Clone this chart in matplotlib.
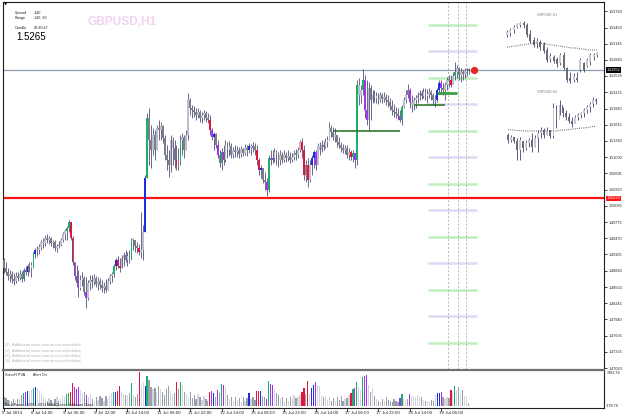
import matplotlib
matplotlib.use("Agg")
import matplotlib.pyplot as plt
from matplotlib.transforms import blended_transform_factory

plt.rcParams['font.family'] = ['Liberation Sans', 'DejaVu Sans']

W, H = 625, 418

# ---------------- H1 bars (GBPUSD) ----------------
first_open = 1.4906
highs = [
    1.4910, 1.4902, 1.4891, 1.4887, 1.4885, 1.4882, 1.4884, 1.4884, 1.4887, 1.4885,
    1.4891, 1.4895, 1.4899, 1.4902, 1.4902, 1.4921, 1.4929, 1.4933, 1.4937, 1.4944,
    1.4948, 1.4953, 1.4955, 1.4951, 1.4950, 1.4944, 1.4944, 1.4936, 1.4942, 1.4948,
    1.4959, 1.4965, 1.4970, 1.4982, 1.4978, 1.4951, 1.4902, 1.4897, 1.4887, 1.4878,
    1.4884, 1.4876, 1.4874, 1.4868, 1.4878, 1.4878, 1.4880, 1.4876, 1.4874, 1.4872,
    1.4868, 1.4864, 1.4870, 1.4872, 1.4880, 1.4884, 1.4899, 1.4910, 1.4914, 1.4910,
    1.4916, 1.4921, 1.4925, 1.4921, 1.4925, 1.4948, 1.4948, 1.4944, 1.4940, 1.4936,
    1.4997, 1.4972, 1.5067, 1.5184, 1.5193, 1.5161, 1.5155, 1.5152, 1.5161, 1.5170,
    1.5167, 1.5161, 1.5142, 1.5123, 1.5114, 1.5142, 1.5138, 1.5133, 1.5123, 1.5117,
    1.5142, 1.5146, 1.5142, 1.5152, 1.5221, 1.5212, 1.5199, 1.5197, 1.5193, 1.5193,
    1.5189, 1.5186, 1.5189, 1.5188, 1.5184, 1.5180, 1.5155, 1.5148, 1.5146, 1.5133,
    1.5114, 1.5117, 1.5123, 1.5133, 1.5129, 1.5131, 1.5127, 1.5119, 1.5123, 1.5121,
    1.5119, 1.5121, 1.5117, 1.5125, 1.5123, 1.5127, 1.5125, 1.5129, 1.5127, 1.5123,
    1.5099, 1.5086, 1.5080, 1.5072, 1.5061, 1.5104, 1.5114, 1.5114, 1.5117, 1.5114,
    1.5110, 1.5114, 1.5110, 1.5114, 1.5110, 1.5114, 1.5110, 1.5108, 1.5114, 1.5116,
    1.5119, 1.5133, 1.5136, 1.5123, 1.5095, 1.5099, 1.5095, 1.5104, 1.5114, 1.5114,
    1.5127, 1.5129, 1.5133, 1.5131, 1.5136, 1.5140, 1.5167, 1.5161, 1.5157, 1.5155,
    1.5142, 1.5138, 1.5129, 1.5125, 1.5123, 1.5123, 1.5117, 1.5114, 1.5114, 1.5108,
    1.5246, 1.5250, 1.5237, 1.5267, 1.5255, 1.5246, 1.5242, 1.5237, 1.5227, 1.5227,
    1.5223, 1.5221, 1.5223, 1.5221, 1.5223, 1.5220, 1.5218, 1.5212, 1.5208, 1.5201,
    1.5195, 1.5193, 1.5189, 1.5199, 1.5214, 1.5227, 1.5238, 1.5231, 1.5218, 1.5214,
    1.5218, 1.5223, 1.5227, 1.5227, 1.5231, 1.5231, 1.5229, 1.5231, 1.5227, 1.5221,
    1.5218, 1.5231, 1.5246, 1.5246, 1.5240, 1.5242, 1.5252, 1.5255, 1.5255, 1.5261,
    1.5280, 1.5274, 1.5270, 1.5269, 1.5265, 1.5269, 1.5269, 1.5269,
]
lows = [
    1.4882, 1.4878, 1.4868, 1.4864, 1.4862, 1.4859, 1.4862, 1.4866, 1.4868, 1.4864,
    1.4866, 1.4878, 1.4876, 1.4884, 1.4874, 1.4891, 1.4910, 1.4914, 1.4918, 1.4925,
    1.4929, 1.4933, 1.4938, 1.4937, 1.4933, 1.4929, 1.4923, 1.4921, 1.4929, 1.4933,
    1.4940, 1.4944, 1.4944, 1.4959, 1.4944, 1.4897, 1.4868, 1.4855, 1.4836, 1.4850,
    1.4857, 1.4840, 1.4815, 1.4831, 1.4850, 1.4853, 1.4859, 1.4855, 1.4850, 1.4851,
    1.4846, 1.4843, 1.4846, 1.4850, 1.4861, 1.4864, 1.4874, 1.4887, 1.4891, 1.4884,
    1.4891, 1.4895, 1.4902, 1.4895, 1.4900, 1.4910, 1.4925, 1.4921, 1.4919, 1.4916,
    1.4910, 1.4906, 1.4959, 1.5061, 1.5086, 1.5080, 1.5104, 1.5095, 1.5114, 1.5133,
    1.5133, 1.5127, 1.5095, 1.5076, 1.5063, 1.5072, 1.5086, 1.5080, 1.5076, 1.5076,
    1.5086, 1.5104, 1.5099, 1.5114, 1.5133, 1.5180, 1.5174, 1.5176, 1.5170, 1.5174,
    1.5167, 1.5165, 1.5170, 1.5167, 1.5165, 1.5142, 1.5133, 1.5114, 1.5117, 1.5099,
    1.5082, 1.5076, 1.5086, 1.5091, 1.5099, 1.5102, 1.5099, 1.5099, 1.5101, 1.5101,
    1.5099, 1.5101, 1.5102, 1.5104, 1.5102, 1.5108, 1.5104, 1.5110, 1.5104, 1.5086,
    1.5067, 1.5061, 1.5052, 1.5038, 1.5027, 1.5035, 1.5086, 1.5089, 1.5091, 1.5086,
    1.5082, 1.5086, 1.5089, 1.5091, 1.5091, 1.5093, 1.5089, 1.5091, 1.5095, 1.5095,
    1.5099, 1.5110, 1.5099, 1.5057, 1.5053, 1.5044, 1.5053, 1.5067, 1.5080, 1.5076,
    1.5101, 1.5104, 1.5110, 1.5114, 1.5117, 1.5119, 1.5133, 1.5138, 1.5133, 1.5129,
    1.5119, 1.5117, 1.5110, 1.5108, 1.5106, 1.5099, 1.5095, 1.5095, 1.5091, 1.5080,
    1.5086, 1.5199, 1.5202, 1.5218, 1.5174, 1.5161, 1.5152, 1.5170, 1.5202, 1.5204,
    1.5202, 1.5201, 1.5204, 1.5202, 1.5204, 1.5199, 1.5195, 1.5189, 1.5180, 1.5176,
    1.5174, 1.5170, 1.5167, 1.5161, 1.5193, 1.5202, 1.5212, 1.5193, 1.5186, 1.5189,
    1.5193, 1.5202, 1.5208, 1.5210, 1.5212, 1.5208, 1.5202, 1.5212, 1.5208, 1.5199,
    1.5195, 1.5204, 1.5223, 1.5223, 1.5218, 1.5208, 1.5227, 1.5233, 1.5233, 1.5238,
    1.5246, 1.5250, 1.5246, 1.5242, 1.5246, 1.5250, 1.5254, 1.5257,
]
closes = [
    1.4891, 1.4884, 1.4876, 1.4880, 1.4870, 1.4866, 1.4876, 1.4872, 1.4880, 1.4870,
    1.4887, 1.4884, 1.4895, 1.4897, 1.4891, 1.4918, 1.4925, 1.4925, 1.4931, 1.4940,
    1.4938, 1.4948, 1.4944, 1.4948, 1.4938, 1.4940, 1.4929, 1.4933, 1.4934, 1.4944,
    1.4955, 1.4961, 1.4967, 1.4978, 1.4948, 1.4902, 1.4876, 1.4862, 1.4853, 1.4868,
    1.4872, 1.4846, 1.4834, 1.4862, 1.4868, 1.4864, 1.4872, 1.4861, 1.4866, 1.4859,
    1.4853, 1.4857, 1.4850, 1.4866, 1.4876, 1.4880, 1.4895, 1.4906, 1.4895, 1.4891,
    1.4910, 1.4916, 1.4906, 1.4914, 1.4906, 1.4944, 1.4944, 1.4933, 1.4929, 1.4921,
    1.4925, 1.4959, 1.5061, 1.5174, 1.5133, 1.5114, 1.5142, 1.5114, 1.5155, 1.5152,
    1.5159, 1.5136, 1.5104, 1.5095, 1.5086, 1.5133, 1.5117, 1.5095, 1.5086, 1.5095,
    1.5133, 1.5138, 1.5114, 1.5142, 1.5208, 1.5193, 1.5189, 1.5186, 1.5180, 1.5186,
    1.5174, 1.5180, 1.5184, 1.5174, 1.5170, 1.5152, 1.5138, 1.5144, 1.5123, 1.5104,
    1.5089, 1.5110, 1.5095, 1.5123, 1.5114, 1.5121, 1.5104, 1.5114, 1.5110, 1.5114,
    1.5106, 1.5116, 1.5108, 1.5117, 1.5114, 1.5121, 1.5117, 1.5121, 1.5114, 1.5095,
    1.5076, 1.5080, 1.5057, 1.5053, 1.5038, 1.5099, 1.5095, 1.5099, 1.5110, 1.5104,
    1.5095, 1.5104, 1.5095, 1.5104, 1.5099, 1.5102, 1.5095, 1.5101, 1.5108, 1.5104,
    1.5114, 1.5129, 1.5114, 1.5067, 1.5086, 1.5057, 1.5086, 1.5099, 1.5110, 1.5086,
    1.5121, 1.5114, 1.5123, 1.5119, 1.5129, 1.5133, 1.5155, 1.5148, 1.5138, 1.5142,
    1.5129, 1.5123, 1.5117, 1.5114, 1.5117, 1.5104, 1.5110, 1.5101, 1.5108, 1.5095,
    1.5237, 1.5218, 1.5227, 1.5246, 1.5189, 1.5170, 1.5231, 1.5208, 1.5218, 1.5212,
    1.5216, 1.5208, 1.5218, 1.5210, 1.5214, 1.5208, 1.5204, 1.5197, 1.5189, 1.5186,
    1.5182, 1.5178, 1.5170, 1.5195, 1.5208, 1.5218, 1.5227, 1.5204, 1.5199, 1.5208,
    1.5212, 1.5218, 1.5221, 1.5216, 1.5223, 1.5216, 1.5220, 1.5223, 1.5218, 1.5208,
    1.5208, 1.5227, 1.5240, 1.5231, 1.5227, 1.5237, 1.5246, 1.5246, 1.5237, 1.5254,
    1.5261, 1.5269, 1.5255, 1.5261, 1.5257, 1.5263, 1.5265, 1.5265,
]
# SonicR PVA class of each bar: u/d normal bull/bear, g/r climax, b/m rising
pva = "".join([
    "ddduddudud", "gmbuugbuuu", "uududududu", "uuggrrmmmu", "udmuududud",
    "duduuugbrr", "uududguddr", "uubgddudud", "udddduudrd", "guduuddddu",
    "duuddrmbdm", "dgmudududu", "dududbuddr", "rbddmgmmud", "dudududuud",
    "uurrdrubbm", "uuuduuuddu", "ddddudurgm", "guugmmudud", "udududdddd",
    "ddmguudmuu", "uuududuudd", "ubbmduudru", "gududuud",
])
volumes = [
    2200, 1800, 1500, 1400, 1200, 1600, 1300, 1700, 1900, 2500,
    2900, 3300, 3400, 2900, 3600, 4200, 4400, 4000, 3500, 2800,
    2200, 1600, 1200, 1800, 1400, 1000, 1600, 2000, 1300, 1700,
    2400, 2000, 2800, 3000, 3300, 5200, 4400, 4000, 4400, 3600,
    3000, 3300, 2600, 2100, 2800, 1600, 1000, 2000, 1400, 2400,
    1800, 1200, 2300, 1600, 2500, 3000, 3300, 3300, 3400, 4600,
    3200, 2800, 2500, 2600, 3000, 5200, 2600, 2000, 2700, 7800,
    4800, 5400, 4600, 6900, 5900, 4400, 3800, 4200, 3300, 4600,
    3800, 3200, 2600, 3800, 4600, 3400, 2800, 3000, 5400, 3800,
    5500, 4500, 3300, 2700, 2200, 3200, 1800, 2600, 1600, 2800,
    2000, 1400, 2400, 1700, 1100, 3300, 3500, 2900, 2100, 3700,
    2900, 5100, 4800, 4400, 2600, 1600, 2000, 1200, 2200, 1400,
    1800, 1000, 2200, 1300, 1900, 2900, 1600, 2200, 1500, 3400,
    3500, 3400, 2400, 2000, 1600, 5700, 5100, 4900, 3800, 3000,
    2500, 1800, 2200, 1300, 1900, 1200, 2100, 1600, 2500, 1800,
    2200, 2600, 3300, 4200, 2800, 5700, 3000, 4200, 4800, 5500,
    4900, 4600, 2600, 2000, 2400, 1500, 2200, 1300, 1800, 1100,
    2000, 1500, 2300, 1200, 1600, 1900, 2500, 2900, 3800, 4200,
    5500, 4300, 3600, 6700, 6900, 7100, 4900, 3300, 4200, 2300,
    1600, 1300, 900, 1700, 1200, 2000, 1500, 1100, 900, 1600,
    1300, 1000, 1900, 2800, 1600, 1500, 1700, 2700, 2400, 2300,
    2200, 2500, 2400, 2100, 1500, 1100, 1300, 1000, 1400, 1200,
    2500, 2900, 3100, 3300, 2100, 1700, 2000, 1900, 3700, 2900,
    4600, 3700, 4400, 3000, 3700, 2400, 2000, 700,
]
vol_max, vol_min = 7963.76, -378.76

date_bars = [0, 15, 31, 47, 63, 79, 95, 111, 127, 143, 159, 175, 191, 207, 223]
date_labels = ["5 Jul 2013", "8 Jul 14:00", "9 Jul 06:00", "9 Jul 22:00", "10 Jul 14:00",
               "11 Jul 06:00", "11 Jul 22:00", "12 Jul 14:00", "15 Jul 06:00", "15 Jul 22:00",
               "16 Jul 14:00", "17 Jul 06:00", "17 Jul 22:00", "18 Jul 14:00", "19 Jul 06:00"]
price_ticks = [1.53760, 1.53450, 1.53145, 1.52840, 1.52535, 1.52225, 1.51920, 1.51615,
               1.51310, 1.51000, 1.50695, 1.50390, 1.50085, 1.49775, 1.49470, 1.49165,
               1.48860, 1.48550, 1.48245, 1.47940, 1.47635, 1.47325, 1.47020]

bid = 1.5265
bid_label = "1.52652"
red_level = 1.50226
levels_50 = [1.5350, 1.5250, 1.5150, 1.5050, 1.4950, 1.4850, 1.4750]
levels_00 = [1.5300, 1.5200, 1.5100, 1.5000, 1.4900, 1.4800]
zone_lines = [(168, 202, 1.5150), (209, 225, 1.5199)]
zone_lines_thick = [(221, 231, 1.5221)]
session_bars = [226.5, 231.6, 235.7]
dot_bar = 239.8

news = ["(1)  Additional news events not scheduled",
        "(2)  Additional news events not scheduled",
        "(3)  Additional news events not scheduled",
        "(4)  Additional news events not scheduled"]

# ---------------- D1 mini chart ----------------
d1_open = [1.565, 1.567, 1.570, 1.573, 1.575, 1.577, 1.575, 1.566, 1.560, 1.556,
           1.558, 1.555, 1.550, 1.541, 1.543, 1.541, 1.537, 1.545, 1.532, 1.522,
           1.520, 1.522, 1.530, 1.537, 1.534, 1.538, 1.543, 1.545]
d1_close = [1.568, 1.570, 1.573, 1.576, 1.577, 1.575, 1.565, 1.559, 1.555, 1.559,
            1.553, 1.549, 1.540, 1.544, 1.539, 1.536, 1.545, 1.532, 1.520, 1.519,
            1.524, 1.520, 1.540, 1.530, 1.540, 1.545, 1.545, 1.547]
d1_high = [1.570, 1.572, 1.575, 1.577, 1.578, 1.579, 1.577, 1.570, 1.563, 1.562,
           1.560, 1.558, 1.553, 1.547, 1.545, 1.543, 1.547, 1.548, 1.533, 1.528,
           1.527, 1.528, 1.542, 1.538, 1.542, 1.547, 1.547, 1.548]
d1_low = [1.563, 1.564, 1.567, 1.572, 1.573, 1.572, 1.563, 1.557, 1.553, 1.552,
          1.550, 1.547, 1.538, 1.538, 1.537, 1.533, 1.535, 1.530, 1.518, 1.517,
          1.518, 1.518, 1.528, 1.528, 1.533, 1.535, 1.540, 1.543]
d1_ma = [1.553, 1.553, 1.554, 1.554, 1.555, 1.555, 1.556, 1.556, 1.557, 1.557,
         1.557, 1.556, 1.556, 1.555, 1.555, 1.554, 1.554, 1.553, 1.553, 1.552,
         1.552, 1.552, 1.551, 1.551, 1.550, 1.550, 1.550, 1.550]

# ---------------- H4 mini chart ----------------
h4_open = [1.5325, 1.5300, 1.5315, 1.5295, 1.5250, 1.5295, 1.5260, 1.5285, 1.5300, 1.5265,
           1.5310, 1.5335, 1.5350, 1.5325, 1.5350, 1.5320, 1.5460, 1.5400, 1.5475, 1.5435,
           1.5415, 1.5395, 1.5380, 1.5415, 1.5425, 1.5435, 1.5450, 1.5465, 1.5480, 1.5500]
h4_close = [1.5300, 1.5315, 1.5295, 1.5250, 1.5300, 1.5260, 1.5285, 1.5300, 1.5265, 1.5310,
            1.5335, 1.5350, 1.5325, 1.5350, 1.5320, 1.5460, 1.5400, 1.5475, 1.5435, 1.5415,
            1.5395, 1.5380, 1.5415, 1.5425, 1.5435, 1.5450, 1.5465, 1.5480, 1.5500, 1.5495]
h4_high = [1.5335, 1.5325, 1.5310, 1.5310, 1.5315, 1.5290, 1.5300, 1.5310, 1.5335, 1.5325,
           1.5350, 1.5365, 1.5360, 1.5365, 1.5350, 1.5485, 1.5475, 1.5500, 1.5465, 1.5450,
           1.5435, 1.5415, 1.5425, 1.5435, 1.5440, 1.5460, 1.5475, 1.5490, 1.5515, 1.5510]
h4_low = [1.5285, 1.5290, 1.5285, 1.5200, 1.5200, 1.5240, 1.5250, 1.5265, 1.5240, 1.5265,
          1.5240, 1.5310, 1.5310, 1.5325, 1.5310, 1.5310, 1.5360, 1.5425, 1.5415, 1.5400,
          1.5385, 1.5365, 1.5390, 1.5400, 1.5410, 1.5415, 1.5435, 1.5440, 1.5465, 1.5480]
h4_ma = [1.5352, 1.5350, 1.5350, 1.5348, 1.5348, 1.5345, 1.5345, 1.5345, 1.5345, 1.5345,
         1.5345, 1.5345, 1.5345, 1.5345, 1.5345, 1.5345, 1.5345, 1.5348, 1.5350, 1.5350,
         1.5352, 1.5355, 1.5355, 1.5358, 1.5360, 1.5360, 1.5362, 1.5365, 1.5368, 1.5370]

# ---------------- styles ----------------
WICK = "#40406c"
BODY = {"u": "#bcbecb", "d": "#7e7e88", "g": "#1fae6a", "r": "#e0163c",
        "b": "#1830e0", "m": "#a234f0"}
VOLC = {"u": "#d2d5dc", "d": "#9aa0ab", "g": "#1fae6a", "r": "#e0163c",
        "b": "#1830e0", "m": "#a234f0"}
SMALL = 2.7


def box(l, t, r, b):
    return [l / W, 1 - b / H, (r - l) / W, (b - t) / H]


def fx(x):
    return x / W


def fy(y):
    return 1 - y / H


def candles(ax, o, h, l, c, colors, width, wick_lw):
    xs = list(range(len(c)))
    ax.vlines(xs, l, h, colors=WICK, lw=wick_lw, zorder=3)
    bottoms = [min(a, b) for a, b in zip(o, c)]
    heights = [max(abs(b - a), 0.00012) for a, b in zip(o, c)]
    ax.bar(xs, heights, bottom=bottoms, width=width, color=colors, lw=0, zorder=4)


fig = plt.figure(figsize=(W / 100, H / 100), dpi=100)
fig.patch.set_facecolor("white")

# ---------------- main window ----------------
ax = fig.add_axes(box(3, 2, 604, 369))
ax.set_xlim(-0.51, 306.1)
ax.set_ylim(1.47003, 1.53932)
for s in ["left", "top", "right"]:
    ax.spines[s].set_color("#202020")
    ax.spines[s].set_linewidth(0.8)
ax.spines["bottom"].set_visible(False)
ax.set_xticks([])
ax.yaxis.tick_right()
ax.set_yticks(price_ticks)
ax.set_yticklabels(["%.5f" % v for v in price_ticks])
ax.tick_params(axis="y", length=2, width=0.6, labelsize=SMALL, pad=1.5, colors="#202020")

opens = [first_open] + closes[:-1]
candles(ax, opens, highs, lows, closes, [BODY[k] for k in pva], 0.9, 0.55)

ax.axhline(bid, color="#8e9cab", lw=0.9, zorder=2)
ax.axhline(red_level, color="#ff1414", lw=1.6, zorder=2)
ax.hlines(levels_50, 216.3, 241.3, colors="#bfeebf", lw=1.8, zorder=1)
ax.hlines(levels_00, 216.3, 241.3, colors="#dcdcf6", lw=1.8, zorder=1)
for a, b, p in zone_lines:
    ax.hlines(p, a, b, colors="#1f6e1f", lw=1.1, zorder=5)
for a, b, p in zone_lines_thick:
    ax.hlines(p, a, b, colors="#3d9c3d", lw=2.0, zorder=5)
ax.vlines(session_bars, 1.47003, 1.53932, colors="#b5b5b5", lw=0.7,
          linestyles=(0, (2, 2)), zorder=1)
ax.plot([dot_bar], [bid], "o", color="#e82424", ms=4.2, zorder=6)

tr = blended_transform_factory(ax.transAxes, ax.transData)
ax.text(1.004, bid, bid_label, transform=tr, fontsize=SMALL, color="white", va="center",
        ha="left", bbox=dict(boxstyle="square,pad=0.2", fc="black", ec="none"), zorder=7)
ax.text(1.004, red_level, "%.5f" % red_level, transform=tr, fontsize=SMALL, color="white",
        va="center", ha="left", bbox=dict(boxstyle="square,pad=0.2", fc="#ff1414", ec="none"),
        zorder=7)

for i, t in enumerate(news):
    ax.text(0.003, 0.065 - i * 0.0148, t, transform=ax.transAxes, fontsize=3.0,
            color="#b4b4b4", va="center", ha="left")

# ---------------- D1 mini chart ----------------
ax_d1 = fig.add_axes(box(500, 10, 600, 90))
ax_d1.set_xlim(-2.1, 27.9)
ax_d1.set_ylim(1.510, 1.590)
ax_d1.axis("off")
ax_d1.patch.set_alpha(0)
col = ["#c8c8d2" if c >= o else "#6c6c74" for o, c in zip(d1_open, d1_close)]
candles(ax_d1, d1_open, d1_high, d1_low, d1_close, col, 0.62, 0.6)
ax_d1.plot(range(len(d1_ma)), d1_ma, color="#202020", lw=0.6, ls=(0, (1, 1.6)), zorder=5)
fig.text(fx(537), fy(15.5), "GBPUSD D1", fontsize=2.5, color="#808080", va="center")

# ---------------- H4 mini chart ----------------
ax_h4 = fig.add_axes(box(500, 90, 600, 165))
ax_h4.set_xlim(-2.64, 30.36)
ax_h4.set_ylim(1.5175, 1.555)
ax_h4.axis("off")
ax_h4.patch.set_alpha(0)
col = ["#c8c8d2" if c >= o else "#6c6c74" for o, c in zip(h4_open, h4_close)]
candles(ax_h4, h4_open, h4_high, h4_low, h4_close, col, 0.62, 0.6)
ax_h4.plot(range(len(h4_ma)), h4_ma, color="#202020", lw=0.6, ls=(0, (1, 1.6)), zorder=5)
fig.text(fx(537), fy(92), "GBPUSD H4", fontsize=2.5, color="#808080", va="center")

# ---------------- volume window ----------------
axv = fig.add_axes(box(3, 371, 604, 408))
axv.set_xlim(-0.51, 306.1)
axv.set_ylim(vol_min, vol_max)
axv.bar(range(len(volumes)), volumes, width=0.62, color=[VOLC[k] for k in pva], lw=0)
axv.set_xticks([])
axv.set_yticks([])
axv.spines["top"].set_visible(False)
for s in ["left", "bottom", "right"]:
    axv.spines[s].set_color("#202020")
    axv.spines[s].set_linewidth(0.8)
fig.text(fx(606.5), fy(373.5), "%.2f" % vol_max, fontsize=SMALL, color="#202020", va="center")
fig.text(fx(605.5), fy(406), "%.2f" % vol_min, fontsize=SMALL, color="#202020", va="center")
fig.text(fx(5), fy(374.5), "SonicR PVA", fontsize=SMALL, color="#202020", va="center")
fig.text(fx(33), fy(374.5), "Alert On", fontsize=SMALL, color="#202020", va="center")
fig.text(fx(3.5), fy(405), "Third Forex \u00a9 2001-2013 MetaQuotes Software Corp.",
         fontsize=SMALL, color="#202020", va="center")

# separator between windows
fig.add_artist(plt.Line2D([fx(3), fx(604)], [fy(370), fy(370)], color="#707070", lw=1.6))

# time axis
for b, lab in zip(date_bars, date_labels):
    xpix = 4 + 1.96 * b
    fig.add_artist(plt.Line2D([fx(xpix), fx(xpix)], [fy(408), fy(410.5)],
                              color="#202020", lw=0.6))
    fig.text(fx(xpix - 2), fy(413.5), lab, fontsize=3.2, color="#202020", va="center")

# ---------------- info block ----------------
fig.text(fx(3.5), fy(5), "\u25bc", fontsize=3, color="black", va="center",
         family="DejaVu Sans")
fig.text(fx(15), fy(13), "Spread", fontsize=SMALL, color="#202020", va="center")
fig.text(fx(34), fy(13), "1.40", fontsize=SMALL, color="#202020", va="center")
fig.text(fx(15), fy(17.5), "Range", fontsize=SMALL, color="#202020", va="center")
fig.text(fx(34), fy(17.5), "146, 60", fontsize=SMALL, color="#202020", va="center")
fig.text(fx(15), fy(28), "Candle", fontsize=SMALL, color="#202020", va="center")
fig.text(fx(34), fy(28), "00:20:47", fontsize=SMALL, color="#202020", va="center")
fig.text(fx(16.5), fy(36.5), "1.5265", fontsize=7, color="black", va="center")
fig.text(fx(87), fy(22), "GBPUSD,H1", fontsize=8.6, fontweight="bold", color="#f2d2f2",
         va="center")

fig.savefig("out.png", dpi=100)
